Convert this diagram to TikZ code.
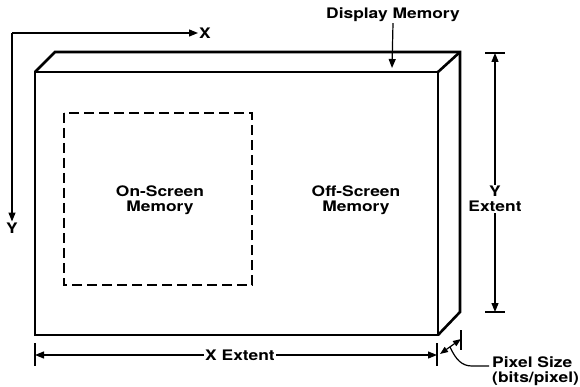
\documentclass[tikz,border=0pt]{standalone}
\usepackage{fontspec}
\setmainfont{TeX Gyre Heros}[FakeStretch=1.2]
\usetikzlibrary{arrows.meta}
\begin{document}
\begin{tikzpicture}[x=1pt,y=-1pt,
  box/.style={line width=2.6pt,line join=miter},
  dash rect/.style={line width=1.3pt,dash pattern=on 10pt off 5pt},
  dimline/.style={line width=1.2pt},
  tip/.style={-{Triangle[length=9pt,width=7pt]}},
  lbl/.style={font=\bfseries\fontsize{14.5}{15.5}\selectfont,inner sep=1pt,align=center},
]
\useasboundingbox (0,0) rectangle (580,387);
% box corners
\coordinate (A) at (35,72);
\coordinate (B) at (438,72);
\coordinate (C) at (438,335);
\coordinate (D) at (35,335);
\coordinate (E) at (55,52);
\coordinate (F) at (460,52);
\coordinate (G) at (460,312);
\draw[box] (A) rectangle (C);
\draw[box] (A) -- (E) -- (F) -- (G) -- (C);
\draw[box] (B) -- (F);
% on-screen region
\draw[dash rect] (64,113) rectangle (252,285);
\node[lbl] (on) at (160,200) {On-Screen\\Memory};
\node[lbl] (off) at (356,200) {Off-Screen\\Memory};
% axes
\coordinate (O) at (12,33);
\node[lbl,anchor=west] (xl) at (198,33) {X};
\node[lbl] (yl) at (12,228) {Y};
\draw[dimline,tip] (O) -- (xl.west);
\draw[dimline,tip] (O) -- (yl.north);
% display memory
\node[lbl] (dm) at (393,15) {Display Memory};
\coordinate (dmt) at (392,68);
\draw[dimline,tip] (dm.south) -- (dmt);
% Y extent
\coordinate (yt) at (495,53);
\coordinate (yb) at (495,312);
\draw[dimline] (485,53) -- (505,53);
\draw[dimline] (485,312) -- (505,312);
\node[lbl] (ye) at (495,199) {Y\\Extent};
\draw[dimline,tip] (ye.north) -- (yt);
\draw[dimline,tip] (ye.south) -- (yb);
% X extent
\coordinate (xlft) at (35,355);
\coordinate (xrgt) at (437,355);
\draw[dimline] (35,343) -- (35,366);
\draw[dimline] (437,343) -- (437,366);
\node[lbl] (xe) at (240,355) {X Extent};
\draw[dimline,tip] (xe.west) -- (xlft);
\draw[dimline,tip] (xe.east) -- (xrgt);
% pixel size
\draw[dimline] (461,330) -- (461,350);
\coordinate (pa) at (440,354);
\coordinate (pb) at (461,339);
\draw[dimline,{Triangle[length=8pt,width=6pt]}-{Triangle[length=8pt,width=6pt]}] (pa) -- (pb);
\node[lbl,anchor=north west,align=left] (px) at (491,355) {Pixel Size\\(bits/pixel)};
\draw[dimline] (450,347) .. controls (456,360) and (462,366) .. (472,366) -- (489,366);
\end{tikzpicture}
\end{document}
